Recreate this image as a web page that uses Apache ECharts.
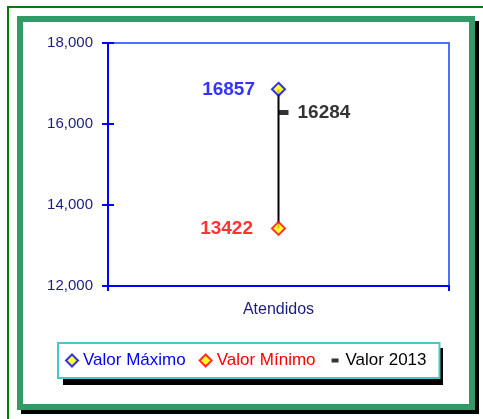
<!DOCTYPE html>
<html>
<head>
<meta charset="utf-8">
<script src="https://cdn.jsdelivr.net/npm/echarts@6/dist/echarts.min.js"></script>
<style>
  html, body { margin: 0; padding: 0; background: #ffffff; }
  #chart { width: 483px; height: 419px; }
</style>
</head>
<body>
<div id="chart"></div>
<script>
// Category and values
const categories = ['Atendidos'];
const valorMaximo = [16857];
const valorMinimo = [13422];
const valor2013 = [16284];
const seriesNames = ['Valor Máximo', 'Valor Mínimo', 'Valor 2013'];
const yTicks = { min: 12000, max: 18000, interval: 2000 };

const FONT = 'Liberation Sans, Arial, sans-serif';
const NAVY = '#1c1c80';

const chart = echarts.init(document.getElementById('chart'), null, { renderer: 'canvas' });

const fmt = v => v.toLocaleString('en-US');

chart.setOption({
  backgroundColor: '#ffffff',
  animation: false,
  graphic: [
    // thin outer frame lines
    { type: 'line', z: -10, z2: 0, silent: true,
      shape: { x1: 8, y1: 6, x2: 8, y2: 419 },
      style: { stroke: '#008000', lineWidth: 2 } },
    { type: 'line', z: -10, z2: 0, silent: true,
      shape: { x1: 7, y1: 7, x2: 483, y2: 7 },
      style: { stroke: '#008000', lineWidth: 2 } },
    // drop shadow of the panel
    { type: 'rect', z: -10, z2: 1, silent: true,
      shape: { x: 21, y: 21, width: 458, height: 393 },
      style: { fill: '#000000' } },
    // panel with thick green border
    { type: 'rect', z: -10, z2: 2, silent: true,
      shape: { x: 20, y: 19, width: 452, height: 388 },
      style: { fill: '#ffffff', stroke: '#339966', lineWidth: 6 } },
    // drop shadow of the legend box
    { type: 'rect', z: -10, z2: 3, silent: true,
      shape: { x: 63, y: 348, width: 380, height: 37 },
      style: { fill: '#000000' } }
  ],
  grid: {
    left: 108, right: 34, top: 43, bottom: 133,
    show: true, borderColor: '#4a72ff', borderWidth: 2, backgroundColor: 'transparent'
  },
  legend: {
    left: 58, top: 343,
    orient: 'horizontal',
    padding: [9, 13, 9, 7],
    itemGap: 13,
    itemWidth: 12, itemHeight: 12,
    backgroundColor: '#ffffff',
    borderColor: '#44c8c8', borderWidth: 2,
    textStyle: { fontSize: 17, fontFamily: FONT },
    data: [
      { name: seriesNames[0], icon: 'diamond', textStyle: { color: '#0000ff' },
        itemStyle: { color: '#ffff00', borderColor: '#0000ff', borderWidth: 2 } },
      { name: seriesNames[1], icon: 'diamond', textStyle: { color: '#ff0000' },
        itemStyle: { color: '#ffff00', borderColor: '#ff0000', borderWidth: 2 } },
      { name: seriesNames[2], icon: 'path://M0,0M12,12M3,4h7v4h-7z', textStyle: { color: '#000000' },
        itemStyle: { color: '#000000', borderWidth: 0 } }
    ]
  },
  xAxis: [{
    type: 'category',
    data: categories,
    boundaryGap: true,
    axisLine: { lineStyle: { color: '#0000ff', width: 2 } },
    axisTick: { show: true, length: 5, lineStyle: { color: '#0000ff', width: 2 } },
    axisLabel: { color: NAVY, fontSize: 16, fontFamily: FONT, margin: 16 },
    splitLine: { show: false }
  }],
  yAxis: [{
    type: 'value',
    min: yTicks.min, max: yTicks.max, interval: yTicks.interval,
    axisLine: { show: true, lineStyle: { color: '#0000ff', width: 2 } },
    axisTick: { show: true, length: 6, lineStyle: { color: '#0000ff', width: 2 } },
    axisLabel: { color: NAVY, fontSize: 15, fontFamily: FONT, margin: 15, formatter: fmt },
    splitLine: { show: false }
  }, {
    // inner half of the cross ticks
    type: 'value', position: 'left',
    min: yTicks.min, max: yTicks.max, interval: yTicks.interval,
    axisLine: { show: false },
    axisTick: { show: true, inside: true, length: 6, lineStyle: { color: '#0000ff', width: 2 } },
    axisLabel: { show: false },
    splitLine: { show: false }
  }],
  series: [
    {
      // high-low line joining maximum and minimum
      type: 'custom',
      name: 'hl',
      z: 1,
      data: categories.map((c, i) => [i, valorMaximo[i], valorMinimo[i]]),
      encode: { x: 0, y: [1, 2] },
      renderItem: (params, api) => {
        const top = api.coord([api.value(0), api.value(1)]);
        const bot = api.coord([api.value(0), api.value(2)]);
        return {
          type: 'line',
          shape: { x1: top[0], y1: top[1], x2: bot[0], y2: bot[1] },
          style: { stroke: '#000000', lineWidth: 2 }
        };
      }
    },
    {
      type: 'scatter',
      name: seriesNames[2],
      z: 3,
      data: valor2013,
      symbol: 'rect',
      symbolSize: [10, 5],
      symbolOffset: [5, 0],
      itemStyle: { color: '#000000' },
      label: {
        show: true, position: 'right', distance: 9,
        color: '#000000', fontSize: 19, fontWeight: 'bold', fontFamily: FONT
      }
    },
    {
      type: 'scatter',
      name: seriesNames[0],
      z: 4,
      data: valorMaximo,
      symbol: 'diamond',
      symbolSize: 13,
      itemStyle: { color: '#ffff00', borderColor: '#0000ff', borderWidth: 2 },
      label: {
        show: true, position: 'left', distance: 16,
        color: '#0000ff', fontSize: 19, fontWeight: 'bold', fontFamily: FONT
      }
    },
    {
      type: 'scatter',
      name: seriesNames[1],
      z: 4,
      data: valorMinimo,
      symbol: 'diamond',
      symbolSize: 13,
      itemStyle: { color: '#ffff00', borderColor: '#ff0000', borderWidth: 2 },
      label: {
        show: true, position: 'left', distance: 18,
        color: '#ff0000', fontSize: 19, fontWeight: 'bold', fontFamily: FONT
      }
    }
  ]
});
</script>
</body>
</html>
